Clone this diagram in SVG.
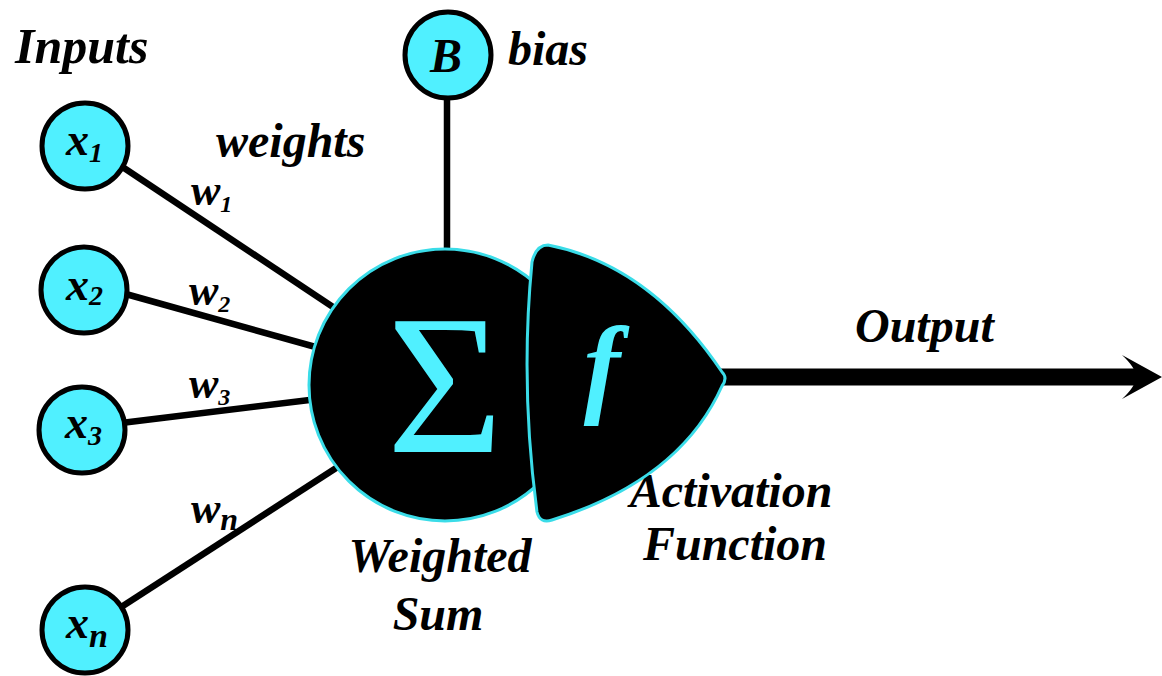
<svg xmlns="http://www.w3.org/2000/svg" width="1162" height="676" viewBox="0 0 1162 676">
<style>
.t{font-family:"Liberation Serif","Times New Roman",serif;font-weight:bold;font-style:italic;fill:#000}
.in{fill:#50F0FF;stroke:#000;stroke-width:5}
.ln{stroke:#000;stroke-width:6.5;stroke-linecap:butt;fill:none}
.big{fill:#000;stroke:#3ADCE8;stroke-width:3}
</style>
<rect width="1162" height="676" fill="#fff"/>
<g id="connectors">
<line class="ln" x1="112" y1="160" x2="345" y2="315"/>
<line class="ln" x1="115" y1="291" x2="330" y2="351"/>
<line class="ln" x1="113" y1="424" x2="326" y2="398"/>
<line class="ln" x1="112" y1="613" x2="350" y2="459"/>
<line class="ln" x1="447" y1="95" x2="447" y2="260"/>
<line x1="715" y1="377" x2="1140" y2="377" stroke="#000" stroke-width="17"/>
<path d="M1162,377 L1122,355 Q1136,368 1136,377 Q1136,386 1122,399 Z" fill="#000"/>
</g>
<g id="labels">
<text class="t" x="15" y="63" font-size="50">Inputs</text>
<text class="t" x="216" y="157" font-size="48">weights</text>
<text class="t" x="508" y="65" font-size="48">bias</text>
<text class="t" x="855" y="342" font-size="48">Output</text>
<text class="t" x="440" y="572" font-size="48" text-anchor="middle">Weighted</text>
<text class="t" x="438" y="630" font-size="48" text-anchor="middle">Sum</text>
<text class="t" x="731" y="507" font-size="48" text-anchor="middle">Activation</text>
<text class="t" x="735" y="560" font-size="48" text-anchor="middle">Function</text>
<text class="t" x="191" y="205" font-size="44">w<tspan font-size="24" dy="7">1</tspan></text>
<text class="t" x="189" y="305" font-size="44">w<tspan font-size="24" dy="7">2</tspan></text>
<text class="t" x="189" y="398" font-size="44">w<tspan font-size="24" dy="7">3</tspan></text>
<text class="t" x="191" y="523" font-size="44">w<tspan font-size="32" dy="7">n</tspan></text>
</g>
<g id="node-x1">
<circle class="in" cx="85" cy="146" r="43"/>
<text class="t" x="66" y="155" font-size="46">x<tspan font-size="28" dy="7">1</tspan></text>
</g>
<g id="node-x2">
<circle class="in" cx="84" cy="290" r="43"/>
<text class="t" x="66" y="300" font-size="46">x<tspan font-size="28" dy="5">2</tspan></text>
</g>
<g id="node-x3">
<circle class="in" cx="82" cy="430" r="43"/>
<text class="t" x="65" y="438" font-size="46">x<tspan font-size="28" dy="7">3</tspan></text>
</g>
<g id="node-xn">
<circle class="in" cx="85" cy="630" r="43"/>
<text class="t" x="66" y="638" font-size="46">x<tspan font-size="34" dy="9">n</tspan></text>
</g>
<g id="node-bias">
<circle class="in" cx="448" cy="55" r="43"/>
<text class="t" x="446" y="72" font-size="48" text-anchor="middle">B</text>
</g>
<g id="node-sum">
<circle class="big" cx="445" cy="385" r="136"/>
<text x="445" y="452" font-size="200" text-anchor="middle" font-family="'Liberation Serif','Times New Roman',serif" fill="#50F0FF">Σ</text>
</g>
<g id="node-activation">
<path class="big" d="M548,245 Q650,265 722,372 Q728,378 722,386 Q680,480 552,520 Q540,524 537,512 Q520,385 532,262 Q536,245 548,245 Z"/>
<text x="602" y="403" font-size="110" text-anchor="middle" font-family="'Liberation Serif','Times New Roman',serif" font-style="italic" font-weight="bold" fill="#50F0FF">f</text>
</g>
</svg>
